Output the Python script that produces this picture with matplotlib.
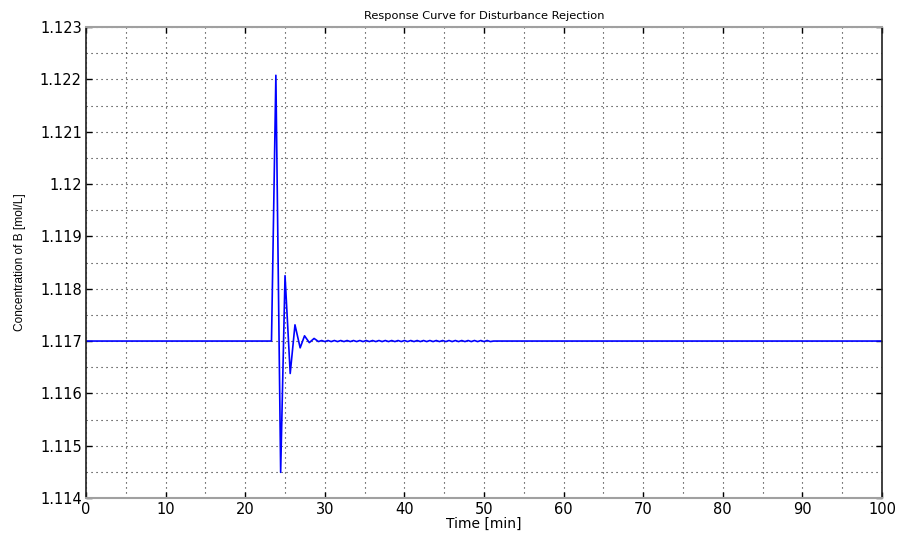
import matplotlib
matplotlib.use("Agg")
import matplotlib.pyplot as plt
from matplotlib.ticker import MultipleLocator, FormatStrFormatter

# response of concentration B after a disturbance at ~23 min
time_min = [0.0, 23.3, 23.85, 24.45, 25.0, 25.65, 26.25, 26.9, 27.45, 28.05, 28.65,
            29.2, 29.6, 30.0, 30.4, 30.8, 31.2, 31.6, 32.0, 32.4, 32.8,
            33.2, 33.6, 34.0, 34.4, 34.8, 35.2, 35.6, 36.0, 36.4, 36.8,
            37.2, 37.6, 38.0, 38.4, 38.8, 39.2, 39.6, 40.0, 40.4, 40.8,
            41.2, 41.6, 42.0, 42.4, 42.8, 43.2, 43.6, 44.0, 44.4, 44.8,
            45.2, 45.6, 46.0, 46.4, 46.8, 47.2, 47.6, 48.0, 48.4, 48.8,
            49.2, 49.6, 50.0, 50.4, 50.8, 51.2, 100.0]
conc_b = [1.1170, 1.1170, 1.12208, 1.11449, 1.11825, 1.11638, 1.11731, 1.11687, 1.11710, 1.11697, 1.11705,
          1.11699, 1.11701, 1.11699, 1.11701, 1.11699, 1.11701, 1.11699, 1.11701, 1.11699, 1.11701,
          1.11699, 1.11701, 1.11699, 1.11701, 1.11699, 1.11701, 1.11699, 1.11701, 1.11699, 1.11701,
          1.11699, 1.11701, 1.11699, 1.11701, 1.11699, 1.11701, 1.11699, 1.11701, 1.11699, 1.11701,
          1.11699, 1.11701, 1.11699, 1.11701, 1.11699, 1.11701, 1.11699, 1.11701, 1.11699, 1.11701,
          1.11699, 1.11701, 1.11699, 1.11701, 1.11699, 1.11701, 1.11699, 1.11701, 1.11699, 1.11701,
          1.11699, 1.11701, 1.11699, 1.11701, 1.11699, 1.1170, 1.1170]

x_limits = (0, 100)
y_limits = (1.114, 1.123)

fig = plt.figure(figsize=(9, 5.33), dpi=100)
ax = fig.add_axes([0.0956, 0.0657, 0.8844, 0.8833])

ax.plot(time_min, conc_b, color='#0000ff', lw=1.2)

ax.set_xlim(*x_limits)
ax.set_ylim(*y_limits)

#major ticks every 10 min / 0.001, dotted grid at half steps as well
ax.xaxis.set_major_locator(MultipleLocator(10))
ax.yaxis.set_major_locator(MultipleLocator(0.001))
ax.xaxis.set_minor_locator(MultipleLocator(5))
ax.yaxis.set_minor_locator(MultipleLocator(0.0005))
ax.yaxis.set_major_formatter(FormatStrFormatter('%g'))
ax.grid(True, which='both', color='#222222', linestyle=(0, (1, 3.5)), lw=0.8)

ax.tick_params(which='major', direction='in', length=4, width=1,
               top=True, right=True, labelsize=10.5, pad=3)
ax.tick_params(which='minor', length=0)

for side in ('top', 'bottom'):
    ax.spines[side].set_color('#a0a0a0')
    ax.spines[side].set_linewidth(1.5)
for side in ('left', 'right'):
    ax.spines[side].set_color('#202020')
    ax.spines[side].set_linewidth(1.2)

ax.set_title('Response Curve for Disturbance Rejection', fontsize=8.2, pad=6)
ax.set_xlabel('Time [min]', fontsize=10, labelpad=0)
ax.set_ylabel('Concentration of B [mol/L]', fontsize=8.6,
              family='Liberation Sans', labelpad=10)

fig.savefig('out.png', dpi=100)
